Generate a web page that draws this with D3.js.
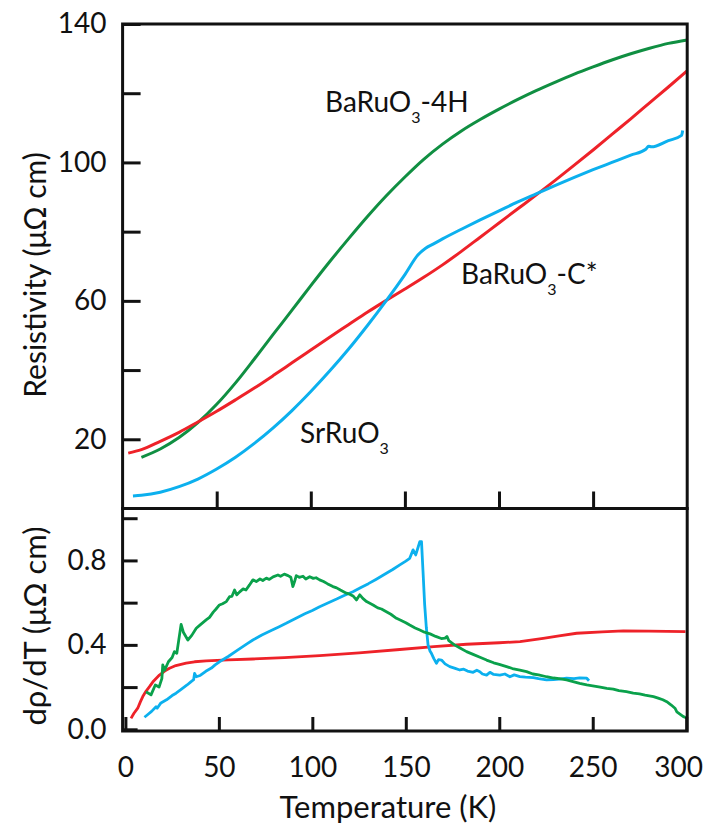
<!DOCTYPE html>
<html>
<head>
<meta charset="utf-8">
<script src="https://cdn.jsdelivr.net/npm/d3@7"></script>
<style>
  body { margin: 0; background: #fff; }
  text { font-family: Lato, "Open Sans", sans-serif; fill: #111; }
</style>
</head>
<body>
<svg id="chart"></svg>
<script>
let width = 706;
let height = 828;

// top panel: resistivity (uOhm cm) vs temperature (K)
let greenT = [10, 20, 30, 40, 50, 60, 70, 80, 90, 100, 110, 120, 130, 140, 150, 160, 170, 180, 190, 200, 210, 220, 230, 240, 250, 260, 270, 280, 290, 300];
let greenRho = [14.8, 17.2, 20.5, 24.8, 30.1, 36.3, 43.2, 50.3, 57.3, 64.4, 71.3, 77.9, 84.3, 90.3, 95.8, 100.9, 105.3, 109.1, 112.4, 115.4, 118.2, 120.8, 123.2, 125.5, 127.6, 129.6, 131.4, 133, 134.4, 135.4];

let redT = [3, 10, 20, 30, 40, 50, 60, 70, 80, 90, 100, 110, 120, 130, 140, 150, 160, 170, 180, 190, 200, 210, 220, 230, 240, 250, 260, 270, 280, 290, 300];
let redRho = [16.0, 17.0, 19.4, 22.0, 25.0, 28.1, 31.4, 34.8, 38.4, 42.1, 45.8, 49.5, 53.1, 56.7, 60.1, 63.4, 66.8, 70.4, 74.3, 78.4, 82.5, 86.6, 90.7, 94.9, 99.2, 103.6, 108.1, 112.6, 117.2, 121.8, 126.5];

let blueT = [5.5, 10, 20, 30, 40, 50, 60, 70, 80, 90, 100, 110, 120, 130, 140, 150, 157, 161, 165, 170, 180, 190, 200, 210, 220, 230, 240, 250, 260, 270, 278, 279.5, 281, 290, 297, 297.6];
let blueRho = [3.6, 3.8, 4.7, 6.3, 8.5, 11.4, 14.8, 18.8, 23.3, 28.3, 33.8, 39.7, 46.0, 52.8, 60.0, 67.6, 73.3, 75.2, 76.4, 77.9, 80.7, 83.4, 86.0, 88.6, 91.0, 93.4, 95.7, 97.9, 100.0, 102.1, 103.8, 104.7, 104.5, 106.3, 107.8, 109.2];

// bottom panel: d rho / dT
let dGreenT = [11, 13.7, 16, 18, 19.5, 20, 21, 23, 25, 26.2, 27.5, 28.5, 29.8, 31, 33.4, 35.5, 37.9, 40, 43.2, 45, 47, 48.5, 50.3, 52, 54, 55.7, 57, 58.4, 59.6, 61, 63, 64.5, 66.4, 68.2, 70, 72, 73.5, 75.4, 77, 79, 81.6, 83, 85, 87, 88.5, 89.6, 90.5, 91.4, 93, 95, 96.5, 98.6, 100.5, 102, 103.9, 106, 108, 111, 113, 115, 118.2, 120, 122, 123.6, 125.4, 127, 129, 132.5, 135, 137, 139.6, 142, 145, 147, 150, 152.1, 155, 157.5, 160, 163, 166, 169, 171, 172, 173, 176, 179, 182.5, 186, 190, 193.2, 197, 200, 203.9, 207, 211, 214.6, 218, 221, 225.3, 229, 232, 236, 240, 243, 246.8, 250, 254, 257.5, 261, 264, 268, 271.7, 275, 278, 282.5, 285, 287.5, 289.6, 292, 294, 295, 297, 298.5, 300];
let dGreen = [0.178, 0.163, 0.21, 0.2, 0.24, 0.305, 0.28, 0.32, 0.34, 0.368, 0.36, 0.42, 0.497, 0.46, 0.423, 0.445, 0.479, 0.495, 0.518, 0.53, 0.555, 0.57, 0.589, 0.595, 0.605, 0.628, 0.63, 0.66, 0.637, 0.65, 0.665, 0.66, 0.684, 0.708, 0.7, 0.712, 0.705, 0.716, 0.71, 0.722, 0.731, 0.725, 0.735, 0.728, 0.72, 0.676, 0.7, 0.728, 0.72, 0.725, 0.712, 0.723, 0.715, 0.718, 0.708, 0.7, 0.69, 0.676, 0.67, 0.66, 0.645, 0.64, 0.63, 0.613, 0.637, 0.62, 0.605, 0.589, 0.575, 0.57, 0.557, 0.545, 0.526, 0.518, 0.505, 0.494, 0.48, 0.47, 0.46, 0.452, 0.44, 0.43, 0.432, 0.44, 0.42, 0.4, 0.385, 0.368, 0.355, 0.34, 0.328, 0.315, 0.308, 0.297, 0.288, 0.28, 0.273, 0.262, 0.258, 0.249, 0.243, 0.24, 0.234, 0.225, 0.218, 0.21, 0.206, 0.2, 0.194, 0.19, 0.183, 0.178, 0.171, 0.168, 0.162, 0.155, 0.148, 0.14, 0.131, 0.115, 0.1, 0.083, 0.07, 0.06, 0.055];

let dBlueT = [10.2, 12, 14, 16.4, 17, 19, 22, 25, 27.1, 30, 33, 35, 36.5, 37, 37.9, 40, 43, 46, 48, 50.3, 55, 60, 65, 68.2, 73, 78, 82, 86, 91, 96, 100, 103.9, 108, 113, 117, 121.7, 126, 130, 134, 139.6, 143, 146.8, 150, 152.1, 153.9, 155.3, 156.5, 157.5, 158.4, 159.2, 160.1, 161, 161.9, 163, 163.7, 165, 166.4, 167.5, 169.1, 171, 173.5, 176, 178.9, 181, 183, 186, 188, 189.6, 191, 193.2, 195, 197, 200.3, 203, 205.7, 208, 211, 214, 218.2, 221, 225.3, 229, 232, 236, 240, 243, 246.8, 248];
let dBlue = [0.057, 0.07, 0.085, 0.107, 0.1, 0.125, 0.14, 0.16, 0.171, 0.19, 0.21, 0.225, 0.235, 0.265, 0.249, 0.255, 0.275, 0.29, 0.305, 0.32, 0.345, 0.375, 0.405, 0.423, 0.447, 0.468, 0.485, 0.502, 0.525, 0.547, 0.563, 0.581, 0.597, 0.617, 0.634, 0.652, 0.672, 0.69, 0.71, 0.739, 0.757, 0.779, 0.797, 0.81, 0.85, 0.826, 0.86, 0.889, 0.889, 0.75, 0.589, 0.48, 0.4, 0.37, 0.36, 0.335, 0.313, 0.33, 0.328, 0.31, 0.297, 0.29, 0.281, 0.285, 0.276, 0.27, 0.28, 0.273, 0.262, 0.257, 0.27, 0.26, 0.257, 0.262, 0.249, 0.258, 0.25, 0.247, 0.245, 0.24, 0.234, 0.236, 0.238, 0.242, 0.24, 0.244, 0.242, 0.23];

let dRedT = [3, 4.5, 6.6, 8, 9.3, 11, 12.9, 15, 18.2, 21, 23.6, 27, 32.5, 37, 43.2, 55, 68.2, 85, 103.9, 125, 146.8, 165, 182.5, 200, 211.1, 223.5, 232, 241.4, 255, 266.4, 280, 299.6];
let dRed = [0.052, 0.075, 0.1, 0.13, 0.155, 0.18, 0.202, 0.228, 0.257, 0.276, 0.289, 0.302, 0.313, 0.32, 0.324, 0.329, 0.333, 0.34, 0.349, 0.362, 0.378, 0.392, 0.403, 0.41, 0.415, 0.431, 0.443, 0.455, 0.462, 0.466, 0.465, 0.463];

let xTicks = [0, 50, 100, 150, 200, 250, 300];
let xTopTicks = [50, 100, 150, 200, 250];
let yTopTicks = [20, 40, 60, 80, 100, 120, 140];
let yTopLabels = [20, 60, 100, 140];
let yBotTicks = [0, 0.2, 0.4, 0.6, 0.8, 1.0];
let yBotLabels = [0, 0.4, 0.8];

let colors = { green: "#108f42", greenD: "#0aa14b", red: "#ee2229", blue: "#0cb0ee" };

let svg = d3.select("#chart").attr("width", width).attr("height", height);

let xTop = d3.scaleLinear().domain([0, 300]).range([122.6, 687.2]);
let yTop = d3.scaleLinear().domain([0, 140]).range([508.5, 24]);
let xBot = d3.scaleLinear().domain([0, 300]).range([125.4, 686.2]);
let yBot = d3.scaleLinear().domain([-0.008, 1.046]).range([731, 508.5]);

function zip(a, b) { return a.map((t, i) => [t, b[i]]) }

let lineTop = d3.line().x(d => xTop(d[0])).y(d => yTop(d[1])).curve(d3.curveMonotoneX);
let lineBot = d3.line().x(d => xBot(d[0])).y(d => yBot(d[1]));

let topSeries = [
  { data: zip(greenT, greenRho), color: colors.green },
  { data: zip(redT, redRho), color: colors.red },
  { data: zip(blueT, blueRho), color: colors.blue }
];
svg.append("g").selectAll("path")
  .data(topSeries)
  .join("path")
  .attr("d", d => lineTop(d.data))
  .attr("fill", "none")
  .attr("stroke", d => d.color)
  .attr("stroke-width", 3)
  .attr("stroke-linejoin", "round");

let botSeries = [
  { data: zip(dRedT, dRed), color: colors.red },
  { data: zip(dBlueT, dBlue), color: colors.blue },
  { data: zip(dGreenT, dGreen), color: colors.greenD }
];
svg.append("g").selectAll("path")
  .data(botSeries)
  .join("path")
  .attr("d", d => lineBot(d.data))
  .attr("fill", "none")
  .attr("stroke", d => d.color)
  .attr("stroke-width", 2.8)
  .attr("stroke-linejoin", "round");

// frames
let left = xTop(0), right = xTop(300);
svg.append("rect")
  .attr("x", left).attr("y", yTop(140))
  .attr("width", right - left).attr("height", yTop(0) - yTop(140))
  .attr("fill", "none").attr("stroke", "#111").attr("stroke-width", 3);
svg.append("rect")
  .attr("x", left).attr("y", yBot.range()[1])
  .attr("width", right - left).attr("height", yBot.range()[0] - yBot.range()[1])
  .attr("fill", "none").attr("stroke", "#111").attr("stroke-width", 3);

function styleAxis(g) {
  g.select(".domain").remove();
  g.selectAll(".tick line").attr("stroke", "#111").attr("stroke-width", 3);
  g.selectAll(".tick text").style("font-size", "28px").attr("fill", "#111");
}

// y axes
svg.append("g")
  .attr("transform", `translate(${left},0)`)
  .call(d3.axisLeft(yTop).tickValues(yTopTicks).tickSizeInner(-18).tickSizeOuter(0).tickPadding(16)
    .tickFormat(d => yTopLabels.includes(d) ? d : ""))
  .call(styleAxis);

svg.append("g")
  .attr("transform", `translate(${left},0)`)
  .call(d3.axisLeft(yBot).tickValues(yBotTicks).tickSizeInner(-15).tickSizeOuter(0).tickPadding(16)
    .tickFormat(d => yBotLabels.includes(d) ? d3.format(".1f")(d) : ""))
  .call(styleAxis);

// x axes
svg.append("g")
  .attr("transform", `translate(0,${yTop(0)})`)
  .call(d3.axisBottom(xTop).tickValues(xTopTicks).tickSizeInner(-17).tickSizeOuter(0).tickFormat(""))
  .call(styleAxis);

svg.append("g")
  .attr("transform", `translate(0,${yBot.range()[0]})`)
  .call(d3.axisBottom(xBot).tickValues(xTicks).tickSizeInner(-14).tickSizeOuter(0).tickPadding(26))
  .call(styleAxis)
  .call(g => g.selectAll(".tick text").filter(d => d === 300).attr("dx", -8));

// axis titles
svg.append("text")
  .attr("x", 388).attr("y", 818)
  .attr("text-anchor", "middle")
  .style("font-size", "31px")
  .text("Temperature (K)");

svg.append("text")
  .attr("transform", "translate(46,275) rotate(-90)")
  .attr("text-anchor", "middle")
  .style("font-size", "30px")
  .text("Resistivity (μΩ cm)");

svg.append("text")
  .attr("transform", "translate(46,626) rotate(-90)")
  .attr("text-anchor", "middle")
  .style("font-size", "31px")
  .text("dρ/dT (μΩ cm)");

// curve annotations
function label(x, y, pre, post) {
  let t = svg.append("text").attr("x", x).attr("y", y).style("font-size", "28px").attr("fill", "#222");
  t.append("tspan").text(pre);
  t.append("tspan").attr("dy", 11).style("font-size", "16px").text("3");
  if (post) t.append("tspan").attr("dy", -11).text(post);
}
label(325, 112, "BaRuO", "-4H");
label(461, 284, "BaRuO", "-C*");
label(300, 443, "SrRuO", null);
</script>
</body>
</html>
